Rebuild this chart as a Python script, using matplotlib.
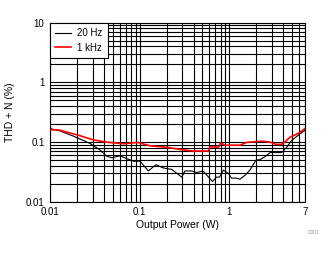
import matplotlib
matplotlib.use('Agg')
import matplotlib.pyplot as plt
from matplotlib.ticker import LogLocator, NullFormatter, FixedLocator

plt.rcParams['font.family'] = ['Liberation Sans', 'DejaVu Sans']

# 20 Hz curve
p_20hz = [0.01, 0.0129, 0.0182, 0.028, 0.036, 0.043, 0.049, 0.060, 0.072, 0.085,
          0.101, 0.125, 0.152, 0.184, 0.228, 0.295, 0.32, 0.38, 0.43, 0.51,
          0.65, 0.72, 0.78, 0.86, 0.98, 1.06, 1.2, 1.32, 1.5, 1.7,
          1.99, 2.2, 2.5, 2.86, 3.85, 4.4, 5.0, 5.9, 7.0]
thd_20hz = [0.169, 0.154, 0.126, 0.095, 0.074, 0.058, 0.055, 0.059, 0.053, 0.048,
            0.048, 0.033, 0.042, 0.037, 0.035, 0.026, 0.033, 0.033, 0.031, 0.033,
            0.022, 0.026, 0.026, 0.034, 0.030, 0.025, 0.025, 0.024, 0.028, 0.034,
            0.050, 0.051, 0.057, 0.067, 0.067, 0.083, 0.108, 0.131, 0.158]

# 1 kHz curve
p_1khz = [0.01, 0.0125, 0.0199, 0.0305, 0.043, 0.066, 0.095, 0.13, 0.2, 0.31,
          0.4, 0.585, 0.61, 0.72, 0.75, 0.80, 0.9, 1.32, 1.56, 2.31,
          2.86, 3.33, 3.85, 4.2, 4.8, 5.9, 7.0]
thd_1khz = [0.161, 0.16, 0.133, 0.109, 0.100, 0.094, 0.099, 0.087, 0.082, 0.074,
            0.071, 0.071, 0.083, 0.083, 0.080, 0.097, 0.089, 0.089, 0.099, 0.104,
            0.100, 0.092, 0.092, 0.101, 0.122, 0.140, 0.169]

x_ticks = [0.01, 0.1, 1, 7]
x_tick_labels = ['0.01', '0.1', '1', '7']
y_ticks = [0.01, 0.1, 1, 10]
y_tick_labels = ['0.01', '0.1', '1', '10']

fig = plt.figure(figsize=(3.34, 2.54), dpi=100)
ax = fig.add_axes([0.150, 0.205, 0.763, 0.706])

ax.plot(p_20hz, thd_20hz, color='black', lw=0.8, label='20 Hz', zorder=3)
ax.plot(p_1khz, thd_1khz, color='#ff0000', lw=1.2, label='1 kHz', zorder=4)

ax.set_xscale('log')
ax.set_yscale('log')
ax.set_xlim(0.01, 7)
ax.set_ylim(0.01, 10)

ax.xaxis.set_major_locator(FixedLocator(x_ticks))
ax.set_xticklabels(x_tick_labels)
ax.xaxis.set_minor_locator(LogLocator(base=10, subs=range(2, 10)))
ax.xaxis.set_minor_formatter(NullFormatter())
ax.yaxis.set_major_locator(FixedLocator(y_ticks))
ax.set_yticklabels(y_tick_labels)
ax.yaxis.set_minor_locator(LogLocator(base=10, subs=range(2, 10)))
ax.yaxis.set_minor_formatter(NullFormatter())

ax.grid(True, which='both', color='black', lw=0.8)
ax.tick_params(which='both', length=0, labelsize=7, pad=4)
for s in ax.spines.values():
    s.set_linewidth(0.8)

ax.set_xlabel('Output Power (W)', fontsize=7.5, labelpad=2)
ax.set_ylabel('THD + N (%)', fontsize=7.5, labelpad=8)

leg = ax.legend(loc='upper left', fontsize=7, frameon=True, fancybox=False,
                borderaxespad=0, handlelength=1.6, handletextpad=0.6,
                framealpha=1, edgecolor='black', borderpad=0.55,
                labelspacing=0.5)
leg.get_frame().set_linewidth(0.8)

fig.text(0.955, 0.08, 'D001', fontsize=3.5, color='#999999', ha='right')

fig.savefig('out.png', dpi=100)
